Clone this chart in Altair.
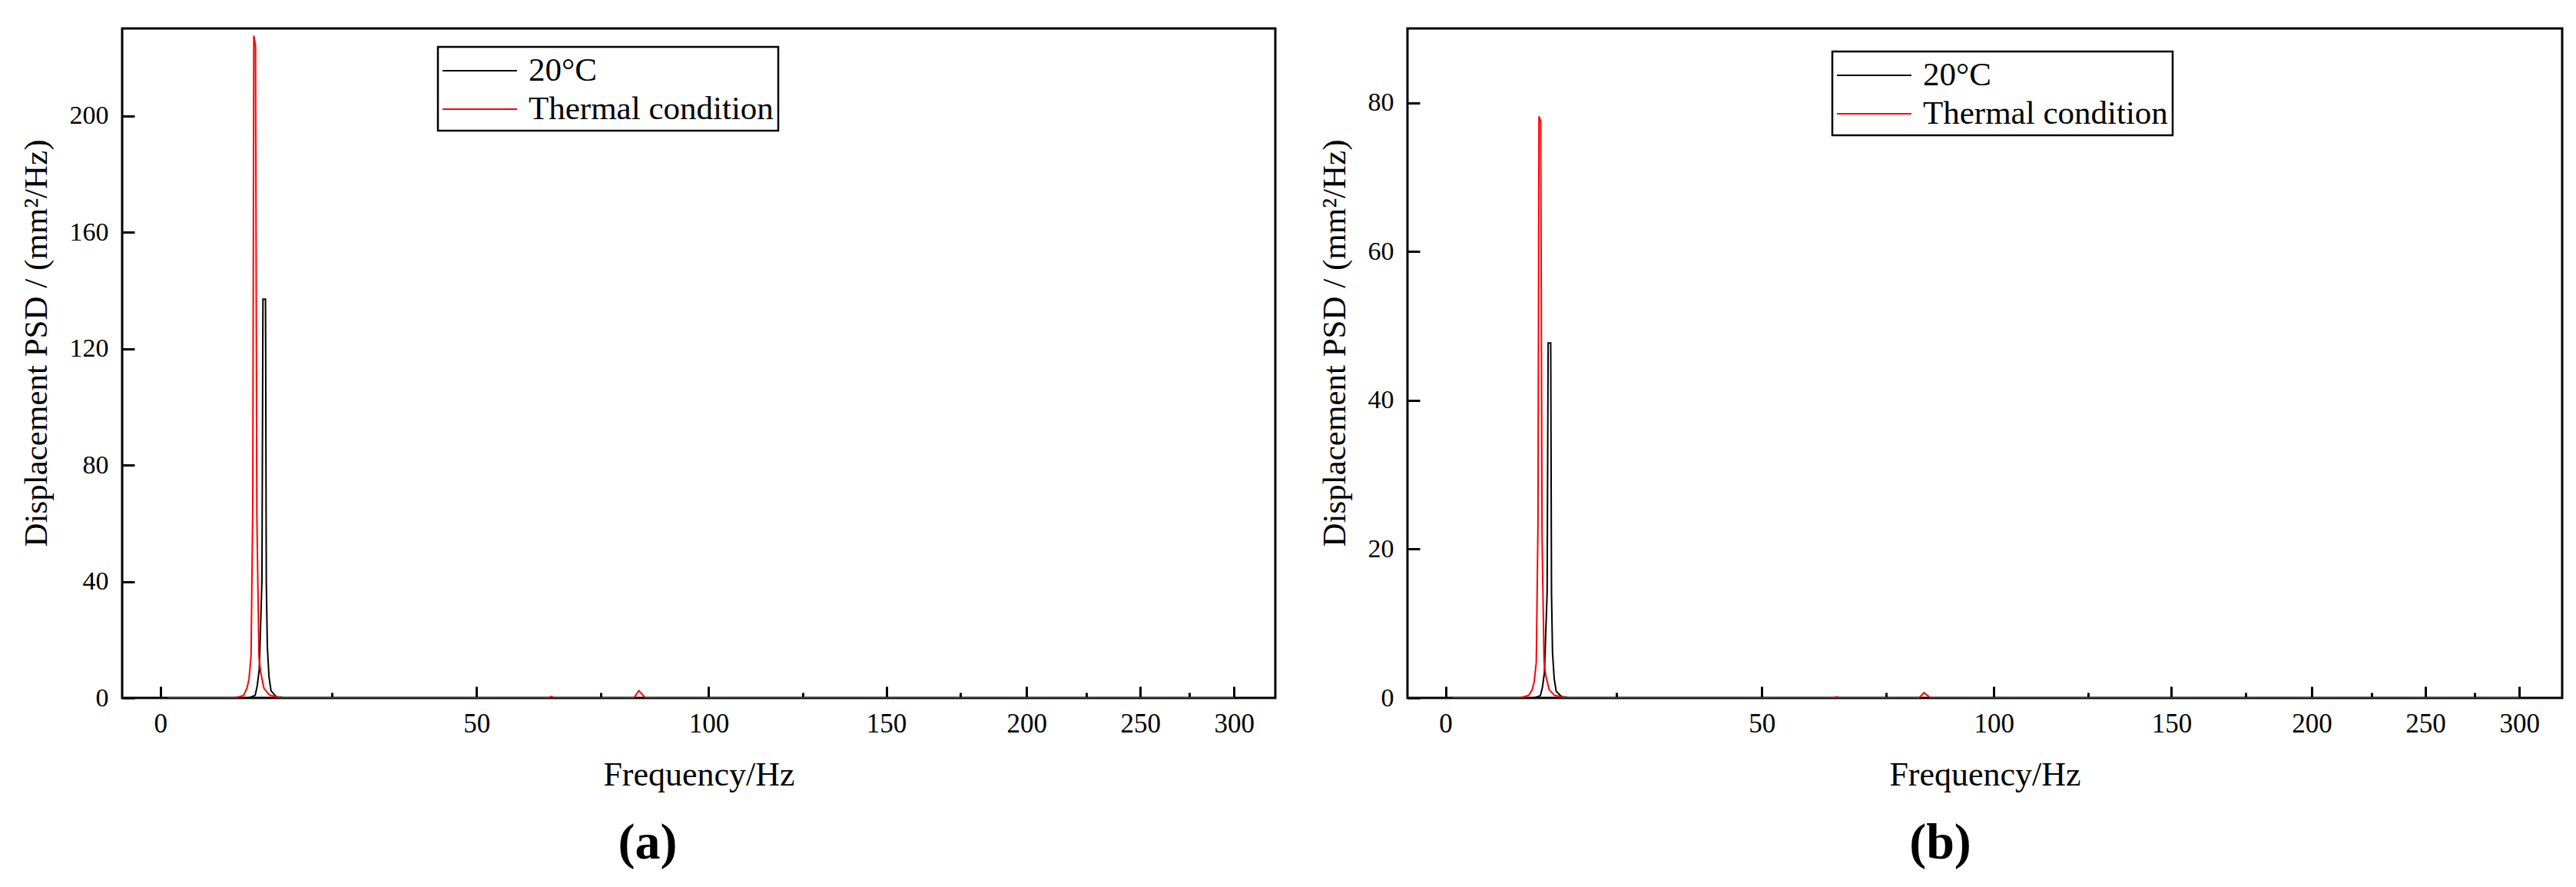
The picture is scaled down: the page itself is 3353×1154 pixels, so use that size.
import altair as alt
import pandas as pd

SERIF = "Liberation Serif"
C_OFF = 276.0  # offset of the reciprocal frequency axis used in the original figure

series_names = ["20°C", "Thermal condition"]
series_colors = ["#000000", "#ff0000"]

x_major = [0, 50, 100, 150, 200, 250, 300]
x_minor = [25, 75, 125, 175, 225, 275]

# ---- panel (a) ----
a_black_f = [1.0, 12.4, 13.3, 13.6, 13.9, 14.3, 14.45, 14.83, 14.95, 15.1, 15.35, 15.65, 16.4, 17.5, 300.0]
a_black_p = [0.0, 0.0, 0.9, 4.1, 9.7, 40.1, 137.0, 137.0, 39.3, 17.7, 7.3, 2.5, 0.5, 0.0, 0.0]
a_red_f = [1.0, 10.3, 11.6, 12.1, 12.4, 12.7, 12.95, 13.1, 13.35, 13.55, 13.85, 14.1, 14.6, 15.4, 17.1,
           64.0, 64.6, 65.2, 82.3, 83.4, 84.9, 300.0]
a_red_p = [0.0, 0.0, 0.8, 3.3, 6.5, 14.5, 67.4, 227.5, 224.0, 63.3, 14.5, 8.9, 3.3, 1.0, 0.0,
           0.0, 0.5, 0.0, 0.0, 2.5, 0.0, 0.0]
a_yticks = [0, 40, 80, 120, 160, 200]
a_ydomain = [0, 230]

# ---- panel (b) ----
b_black_f = [1.0, 12.4, 13.3, 13.6, 13.9, 14.3, 14.45, 14.83, 14.95, 15.1, 15.35, 15.65, 16.4, 17.5, 300.0]
b_black_p = [0.0, 0.0, 0.3, 1.4, 3.4, 14.2, 47.7, 47.7, 14.0, 6.1, 2.6, 0.9, 0.2, 0.0, 0.0]
b_red_f = [1.0, 10.3, 11.6, 12.1, 12.4, 12.7, 12.95, 13.1, 13.35, 13.55, 13.85, 14.1, 14.6, 15.4, 17.1,
           64.0, 64.6, 65.2, 82.3, 83.4, 84.9, 300.0]
b_red_p = [0.0, 0.0, 0.35, 1.1, 2.2, 4.8, 23.3, 78.2, 77.5, 21.7, 4.8, 3.0, 1.1, 0.35, 0.0,
           0.0, 0.15, 0.0, 0.0, 0.7, 0.0, 0.0]
b_yticks = [0, 20, 40, 60, 80]
b_ydomain = [0, 90]

H = 871


def to_u(f):
    return 1000.0 * (1.0 / C_OFF - 1.0 / (f + C_OFF))


U_EXPR = f"1000*(1/{C_OFF} - 1/(datum.f + {C_OFF}))"
LABEL_EXPR = f"format(1/(1/{C_OFF} - datum.value/1000) - {C_OFF}, '.0f')"
major_u = [to_u(v) for v in x_major]
minor_u = [to_u(v) for v in x_minor]


def panel(bf, bp, rf, rp, ydom, yticks, label, width, xdom, lx, ly):
    rows = []
    for f, p in zip(bf, bp):
        rows.append({"f": f, "psd": p, "series": series_names[0]})
    for f, p in zip(rf, rp):
        rows.append({"f": f, "psd": p, "series": series_names[1]})
    df = pd.DataFrame(rows)
    xscale = alt.Scale(domain=xdom, nice=False, zero=False)
    yscale = alt.Scale(domain=ydom, nice=False, zero=False)

    line = alt.Chart(df).transform_calculate(u=U_EXPR).mark_line(strokeWidth=2, clip=True).encode(
        x=alt.X("u:Q", scale=xscale,
                axis=alt.Axis(values=major_u, labelExpr=LABEL_EXPR, tickSize=0, tickWidth=0,
                              domain=False, grid=False, labelFont=SERIF, labelFontSize=35,
                              labelColor="black", labelPadding=16, labelFlush=False,
                              title="Frequency/Hz", titleFont=SERIF, titleFontSize=44,
                              titleFontWeight="normal", titleColor="black", titlePadding=27)),
        y=alt.Y("psd:Q", scale=yscale,
                axis=alt.Axis(values=yticks, tickSize=0, tickWidth=0,
                              domain=False, grid=False, labelFont=SERIF, labelFontSize=34,
                              labelColor="black", labelPadding=18,
                              title="Displacement PSD / (mm²/Hz)", titleFont=SERIF,
                              titleFontSize=43, titleFontWeight="normal", titleColor="black",
                              titlePadding=21, titleY=409)),
        color=alt.Color("series:N",
                        scale=alt.Scale(domain=series_names, range=series_colors),
                        legend=alt.Legend(title=None, orient="none", legendX=lx, legendY=ly,
                                          direction="vertical", fillColor="white",
                                          strokeColor="black", padding=6,
                                          symbolType="M-1.0417,0H3", symbolSize=2304,
                                          symbolStrokeWidth=2, labelFont=SERIF,
                                          labelFontSize=43, labelColor="black",
                                          labelOffset=62, labelLimit=0, rowPadding=3)),
        order=alt.Order("f:Q"),
    )

    maj = alt.Chart(pd.DataFrame({"u": major_u})).mark_point(opacity=0).encode(
        x=alt.X("u:Q", scale=xscale,
                axis=alt.Axis(orient="top", offset=-H, values=major_u, labels=False,
                              domain=False, grid=False, title=None, tickSize=15,
                              tickWidth=3, tickColor="black")))
    mnr = alt.Chart(pd.DataFrame({"u": minor_u})).mark_point(opacity=0).encode(
        x=alt.X("u:Q", scale=xscale,
                axis=alt.Axis(orient="top", offset=-H, values=minor_u, labels=False,
                              domain=False, grid=False, title=None, tickSize=7,
                              tickWidth=3, tickColor="black")))
    yt = alt.Chart(pd.DataFrame({"psd": yticks})).mark_point(opacity=0).encode(
        y=alt.Y("psd:Q", scale=yscale,
                axis=alt.Axis(orient="right", offset=-width, values=yticks, labels=False,
                              domain=False, grid=False, title=None, tickSize=16,
                              tickWidth=3, tickColor="black")))

    return alt.layer(line, maj, mnr, yt).resolve_axis(x="independent", y="independent").properties(
        width=width, height=H,
        title=alt.TitleParams(text=label, orient="bottom", anchor="middle", frame="bounds",
                              font=SERIF, fontSize=66, fontWeight="bold", color="black",
                              offset=35))


pa = panel(a_black_f, a_black_p, a_red_f, a_red_p, a_ydomain, a_yticks, "(a)", 1501,
           [-0.0672, 1.9595], 411, 24)
pb = panel(b_black_f, b_black_p, b_red_f, b_red_p, b_ydomain, b_yticks, "(b)", 1503,
           [-0.0670, 1.9625], 553, 30)

chart = alt.hconcat(pa, pb, spacing=52).resolve_legend(color="independent").properties(
    padding={"left": 16, "top": 27, "right": 8, "bottom": 0}
).configure_view(stroke="black", strokeWidth=3).configure_legend(strokeWidth=2.5)

chart.save("out.html", embed_options={"renderer": "svg", "actions": False})
